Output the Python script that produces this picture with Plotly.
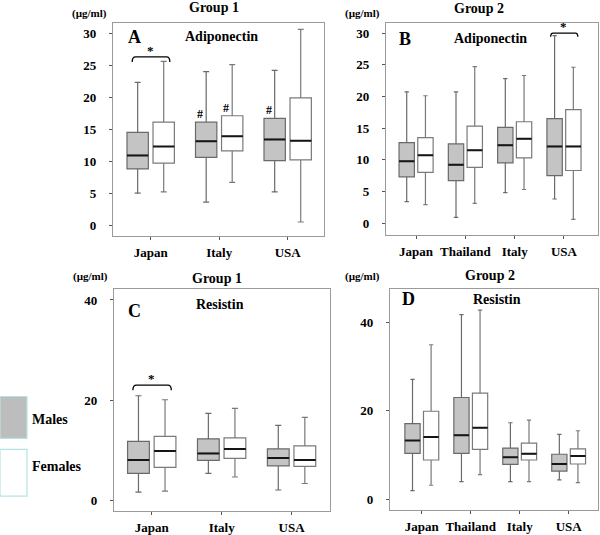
import plotly.graph_objects as go

W, H = 600, 535
FONT = "Liberation Serif, Times New Roman, serif"

COUNTRIES_G1 = ["Japan", "Italy", "USA"]
COUNTRIES_G2 = ["Japan", "Thailand", "Italy", "USA"]

# each row: lower whisker, Q1, median, Q3, upper whisker (µg/ml)
A_MALES = [(5.0, 8.8, 10.9, 14.5, 22.3), (3.6, 10.6, 13.1, 16.1, 24.0), (5.2, 10.1, 13.4, 16.7, 24.2)]
A_FEMALES = [(5.2, 9.7, 12.3, 16.1, 25.6), (6.7, 11.6, 13.9, 17.1, 25.1), (0.5, 10.2, 13.2, 19.9, 30.6)]

B_MALES = [(3.4, 7.3, 9.75, 12.7, 20.7), (0.9, 6.7, 9.2, 12.5, 20.7),
           (4.8, 9.5, 12.3, 15.1, 22.8), (3.8, 7.5, 12.1, 16.5, 29.6)]
B_FEMALES = [(2.9, 8.0, 10.7, 13.5, 20.1), (3.1, 8.8, 11.5, 15.3, 24.7),
             (5.3, 10.3, 13.3, 16.0, 23.3), (0.6, 8.3, 12.1, 17.9, 24.6)]

C_MALES = [(1.7, 5.4, 8.1, 11.8, 20.9), (5.4, 8.0, 9.4, 12.3, 17.4), (2.1, 6.9, 8.5, 10.3, 15.0)]
C_FEMALES = [(1.9, 6.6, 9.9, 12.8, 20.1), (4.7, 8.4, 10.3, 12.5, 18.4), (3.4, 6.8, 8.1, 10.9, 16.6)]

D_MALES = [(2.0, 10.4, 13.3, 17.1, 27.1), (4.0, 10.4, 14.5, 23.0, 41.7),
           (4.0, 7.9, 9.5, 11.6, 17.3), (4.4, 6.4, 8.0, 10.2, 14.7)]
D_FEMALES = [(3.2, 8.9, 14.1, 19.9, 34.9), (5.6, 11.3, 16.2, 24.0, 42.7),
             (4.0, 8.9, 10.3, 12.7, 17.9), (3.8, 8.0, 9.8, 11.4, 15.5)]

STAT_KEYS = ["lowerfence", "q1", "median", "q3", "upperfence"]

MALE_FILL = "#c4c4c4"
MALE_LINE = "#6a6a6a"
FEMALE_LINE = "#7a7a7a"
FRAME = "#9a9a9a"

BOXGAP = 0.24
SLOT = (1 - BOXGAP) / 4  # centre offset of each sex inside a category


def px(x):
    return x / W


def py(y):
    return 1 - y / H


# layout of the four panels (pixel frame, axis ranges)
PANELS = [
    dict(letter="A", title="Group 1", marker="Adiponectin", cats=COUNTRIES_G1, males=A_MALES, females=A_FEMALES,
         frame=(113, 324, 23, 237), xr=[-0.55, 2.53], yr=[-1.7, 31.6], yticks=[0, 5, 10, 15, 20, 25, 30],
         title_xy=(214, 8), unit_xy=(89, 14), letter_xy=(134, 37), marker_xy=(221, 37),
         sig=[(0, 26.3, 0.8)], hashes=[(1, "m"), (1, "f"), (2, "m")]),
    dict(letter="B", title="Group 2", marker="Adiponectin", cats=COUNTRIES_G2, males=B_MALES, females=B_FEMALES,
         frame=(386, 598, 23, 236), xr=[-0.61, 3.69], yr=[-1.9, 31.6], yticks=[0, 5, 10, 15, 20, 25, 30],
         title_xy=(479, 9), unit_xy=(362, 14), letter_xy=(405, 39), marker_xy=(490, 39),
         sig=[(3, 30.0, 0.6)], hashes=[]),
    dict(letter="C", title="Group 1", marker="Resistin", cats=COUNTRIES_G1, males=C_MALES, females=C_FEMALES,
         frame=(114, 330, 290, 513), xr=[-0.54, 2.55], yr=[-2.1, 42.2], yticks=[0, 20, 40],
         title_xy=(217, 280), unit_xy=(90, 278), letter_xy=(134, 312), marker_xy=(220, 306),
         sig=[(0, 23.0, 1.0)], hashes=[]),
    dict(letter="D", title="Group 2", marker="Resistin", cats=COUNTRIES_G2, males=D_MALES, females=D_FEMALES,
         frame=(390, 598, 290, 512), xr=[-0.65, 3.6], yr=[-2.4, 47.5], yticks=[0, 20, 40],
         title_xy=(490, 277), unit_xy=(362, 278), letter_xy=(408, 300), marker_xy=(497, 301),
         sig=[], hashes=[]),
]


def stats(rows):
    return {k: list(v) for k, v in zip(STAT_KEYS, zip(*rows))}


fig = go.Figure()
annotations = []
shapes = []


def text(x, y, s, size, xanchor="center"):
    annotations.append(dict(x=px(x), y=py(y), xref="paper", yref="paper", text=s, showarrow=False,
                            xanchor=xanchor, yanchor="middle",
                            font=dict(family=FONT, size=size, color="black", weight="bold")))


for i, p in enumerate(PANELS, start=1):
    sfx = "" if i == 1 else str(i)
    xa, ya = "x" + sfx, "y" + sfx
    x0, x1, y0, y1 = p["frame"]

    for rows, grp, fill, line in [(p["males"], "m", MALE_FILL, MALE_LINE),
                                  (p["females"], "f", "white", FEMALE_LINE)]:
        fig.add_trace(go.Box(x=p["cats"], **stats(rows), offsetgroup=grp, fillcolor=fill,
                             line=dict(color=line, width=1.2), whiskerwidth=0.28, boxpoints=False,
                             showlegend=False, hoverinfo="skip", xaxis=xa, yaxis=ya))
    # darker median bars drawn on top
    for rows, grp in [(p["males"], "m"), (p["females"], "f")]:
        med = stats(rows)["median"]
        fig.add_trace(go.Box(x=p["cats"], lowerfence=med, q1=med, median=med, q3=med, upperfence=med,
                             offsetgroup=grp, fillcolor="rgba(0,0,0,0)", line=dict(color="#151515", width=2),
                             whiskerwidth=0, boxpoints=False, showlegend=False, hoverinfo="skip",
                             xaxis=xa, yaxis=ya))

    axis_common = dict(showline=True, mirror=True, linecolor=FRAME, linewidth=1.3, ticks="outside",
                       ticklen=3, tickcolor="#555", showgrid=False, zeroline=False, fixedrange=True,
                       tickfont=dict(family=FONT, size=13, color="black", weight="bold"))
    fig.update_layout(**{
        "xaxis" + sfx: dict(axis_common, domain=[px(x0), px(x1)], anchor=ya, type="category",
                            range=p["xr"], ticklabelstandoff=1),
        "yaxis" + sfx: dict(axis_common, domain=[py(y1), py(y0)], anchor=xa, range=p["yr"],
                            tickvals=p["yticks"], ticklabelstandoff=10),
    })

    text(*p["title_xy"], p["title"], 14)
    text(*p["unit_xy"], "(µg/ml)", 11)
    text(*p["letter_xy"], p["letter"], 18)
    text(*p["marker_xy"], p["marker"], 14)

    # significance brackets
    for ci, level, drop in p["sig"]:
        a, b = ci - 0.27, ci + 0.28
        r = 0.05
        shapes.append(dict(type="path", xref=xa, yref=ya, line=dict(color="black", width=1.3),
                           path=f"M {a},{level - drop} Q {a},{level} {a + r},{level} L {b - r},{level} "
                                f"Q {b},{level} {b},{level - drop}"))
        annotations.append(dict(x=ci, y=level, xref=xa, yref=ya, text="*", showarrow=False,
                                yanchor="bottom", yshift=-3,
                                font=dict(family=FONT, size=13, color="black", weight="bold")))

    for ci, grp in p["hashes"]:
        rows = p["males"] if grp == "m" else p["females"]
        off = -SLOT if grp == "m" else SLOT
        annotations.append(dict(x=ci + off, y=rows[ci][3], xref=xa, yref=ya, text="#", showarrow=False,
                                yanchor="bottom", xshift=-6, yshift=-1,
                                font=dict(family=FONT, size=12, color="black", weight="bold")))

# legend swatches
shapes.append(dict(type="rect", xref="paper", yref="paper", x0=px(0), x1=px(27), y0=py(440), y1=py(398),
                   fillcolor="#bdbdbd", line=dict(color="#b5e3e3", width=1.2)))
shapes.append(dict(type="rect", xref="paper", yref="paper", x0=px(0), x1=px(27), y0=py(498), y1=py(451),
                   fillcolor="white", line=dict(color="#b5e3e3", width=1.2)))
text(30, 421, "Males", 14, xanchor="left")
text(30, 468, "Females", 14, xanchor="left")

fig.update_layout(
    width=W, height=H,
    margin=dict(l=0, r=0, t=0, b=0),
    paper_bgcolor="white", plot_bgcolor="white",
    boxmode="group", boxgap=BOXGAP, boxgroupgap=0.18,
    annotations=annotations, shapes=shapes,
    showlegend=False,
)

# the page's default body margin would push the figure 8px right and down
fig.write_html("out.html", config={"displayModeBar": False},
               post_script="document.body.style.margin='0';")
